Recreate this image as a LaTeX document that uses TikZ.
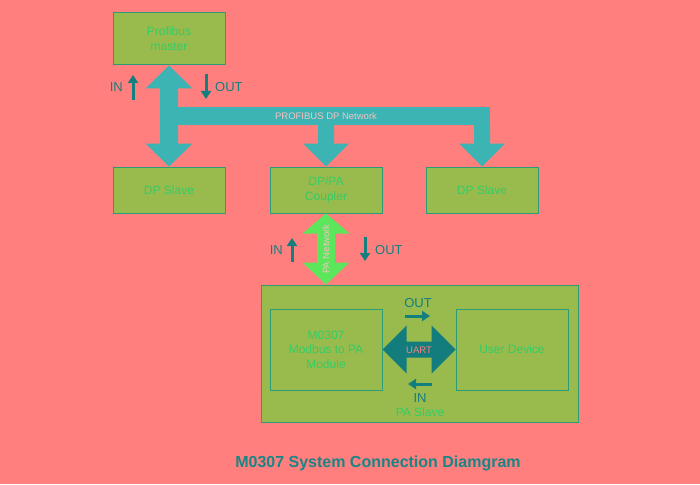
\documentclass[tikz,border=0pt]{standalone}
\usepackage{fontspec}
\setmainfont{Liberation Sans}
\usetikzlibrary{calc,arrows.meta}

\definecolor{bgsalmon}{HTML}{FF7F7F}
\definecolor{boxfill}{HTML}{99BB4D}
\definecolor{boxline}{HTML}{2A9D78}
\definecolor{boxtext}{HTML}{33CC66}
\definecolor{netteal}{HTML}{3CB4B4}
\definecolor{pagreen}{HTML}{5CE65C}
\definecolor{uartteal}{HTML}{137D7D}
\definecolor{lbldark}{HTML}{137F7F}
\definecolor{buspink}{HTML}{F4C2C2}
\definecolor{titlecol}{HTML}{1A8585}

\begin{document}
\begin{tikzpicture}[
    % 1 единица = 1 пиксель, ось y вниз
    x=1pt, y=-1pt,
    % Стиль блоков: зелёный фон, бирюзовая граница
    block/.style={draw=boxline, line width=1pt, fill=boxfill, text=boxtext,
        minimum width=112pt, minimum height=46pt, inner sep=0pt, align=center,
        font=\fontsize{12}{15}\selectfont},
    % Толстые стрелки сети
    bus/.style={fill=netteal},
    % Подписи на стрелках
    buslabel/.style={text=buspink, inner sep=0pt, font=\fontsize{9.5}{11}\selectfont},
    % Подписи IN / OUT
    iolabel/.style={text=lbldark, inner sep=0pt, font=\fontsize{13}{15}\selectfont},
    % Тонкие стрелки направления
    flow/.style={draw=lbldark, line width=3pt, -{Triangle[length=8pt,width=10pt]}}
]

    % Фон
    \fill[bgsalmon] (0,0) rectangle (700,484);
    \useasboundingbox (0,0) rectangle (700,484);

    % Верхние блоки
    \node[block, minimum height=52pt] (master) at (169,39) {Profibus\\master};
    \node[block] (dpl) at (169,190) {DP Slave};
    \node[block] (coupler) at (326,190) {DP/PA\\Coupler};
    \node[block] (dpr) at (482,190) {DP Slave};

    % Нижние блоки
    \node[block, minimum width=317pt, minimum height=137pt] (paslave) at (419.5,353.5) {};
    \node[block, minimum height=81pt, font=\fontsize{12}{14.5}\selectfont] (mod) at (326,349.5) {M0307\\Modbus to PA\\Module};
    \node[block, minimum height=81pt] (user) at (512,349.5) {User Device};
    \node[text=boxtext, inner sep=0pt, font=\fontsize{12}{15}\selectfont] (pslabel) at (420,412) {PA Slave};

    % Сеть PROFIBUS DP
    \fill[bus] (master.south) -- ++(23.5,23) -- ++(-14.5,0) -- ($(dpl.north)+(9,-23)$)
        -- ++(14.5,0) -- (dpl.north) -- ++(-23.5,-23) -- ++(14.5,0)
        -- ($(master.south)+(-9,23)$) -- ++(-14.5,0) -- cycle;
    \coordinate (busL) at (169,107);
    \coordinate (busR) at (490,125);
    \fill[bus] (busL) rectangle (busR);
    \foreach \t in {coupler,dpr}
        \fill[bus] ($(\t.north)+(-8,-42)$) -- ++(16,0) -- ++(0,19) -- ++(15,0)
            -- (\t.north) -- ++(-23,-23) -- ++(15,0) -- cycle;
    \node[buslabel] (busname) at (326,116) {PROFIBUS DP Network};

    % Сеть PA
    \coordinate (patip) at (coupler.south |- paslave.north);
    \fill[pagreen] (coupler.south) -- ++(23.5,20) -- ++(-14.5,0) -- ($(patip)+(9,-22)$)
        -- ++(14.5,0) -- (patip) -- ++(-23.5,-22) -- ++(14.5,0)
        -- ($(coupler.south)+(-9,20)$) -- ++(-14.5,0) -- cycle;
    \node[buslabel, rotate=90] (paname) at (326,249) {PA Network};

    % UART
    \fill[uartteal] (mod.east) -- ++(24,-24) -- ++(0,16) -- ($(user.west)+(-24,-8)$)
        -- ++(0,-16) -- (user.west) -- ++(-24,24) -- ++(0,-16)
        -- ($(mod.east)+(24,8)$) -- ++(0,16) -- cycle;
    \node[buslabel, text=bgsalmon] (uart) at (419,350) {UART};

    % IN / OUT
    \node[iolabel, anchor=east] (inTop) at (123,87) {IN};
    \draw[flow] ($(inTop.east)+(10,13)$) -- ++(0,-25);
    \node[iolabel, anchor=west] (outTop) at (215,87) {OUT};
    \draw[flow] ($(outTop.west)+(-9,-13)$) -- ++(0,25);

    \node[iolabel, anchor=east] (inPA) at (283,250) {IN};
    \draw[flow] ($(inPA.east)+(9,12)$) -- ++(0,-24);
    \node[iolabel, anchor=west] (outPA) at (375,250) {OUT};
    \draw[flow] ($(outPA.west)+(-10,-13)$) -- ++(0,24);

    \node[iolabel] (outU) at (418,303) {OUT};
    \draw[flow] ($(outU)+(-13,13)$) -- ++(25,0);
    \node[iolabel] (inU) at (420,398) {IN};
    \draw[flow] ($(inU)+(12,-14)$) -- ++(-24,0);

    % Заголовок
    \node[text=titlecol, font=\bfseries\fontsize{16}{19}\selectfont] (title) at (378,463)
        {M0307 System Connection Diamgram};

\end{tikzpicture}
\end{document}
